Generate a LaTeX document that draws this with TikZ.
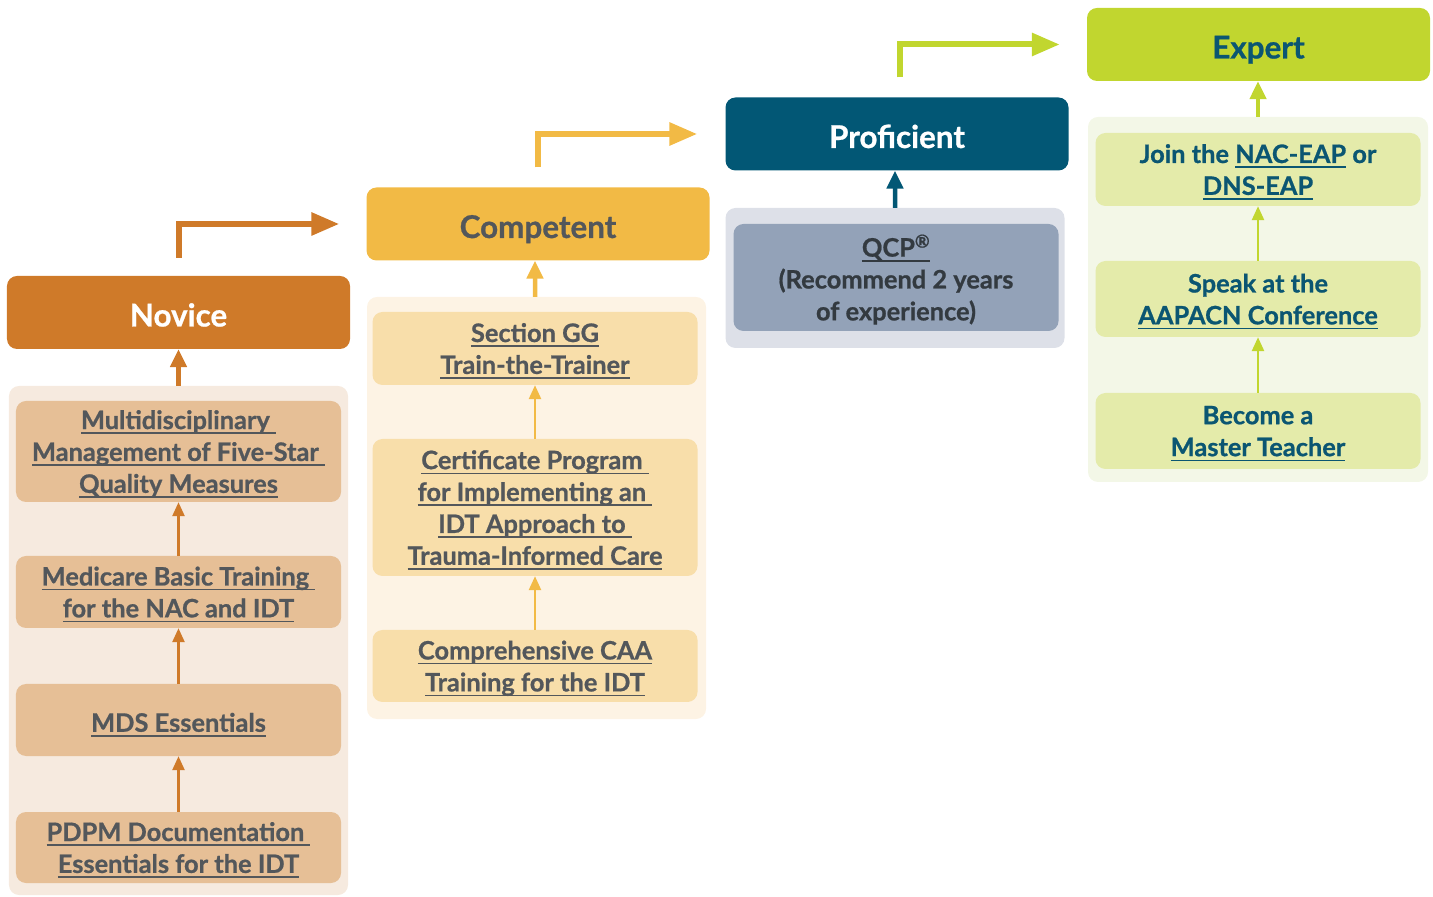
\documentclass[tikz,border=0pt]{standalone}
\usepackage{fontspec}
\setmainfont{Lato}[BoldFeatures={FakeBold=0.8}]
\usepackage{xcolor}
\usetikzlibrary{arrows, arrows.meta}
\usetikzlibrary{positioning}

\definecolor{nvorange}{HTML}{CF7A29}
\definecolor{nvpanel}{HTML}{F6EADF}
\definecolor{nvitem}{HTML}{E6BF96}
\definecolor{cpyellow}{HTML}{F2BA45}
\definecolor{cppanel}{HTML}{FDF3E4}
\definecolor{cpitem}{HTML}{F8DEAA}
\definecolor{prblue}{HTML}{025775}
\definecolor{prpanel}{HTML}{DDE0E8}
\definecolor{pritem}{HTML}{93A2B8}
\definecolor{exgreen}{HTML}{C1D62F}
\definecolor{expanel}{HTML}{F3F7E7}
\definecolor{exitem}{HTML}{E4EBAA}
\definecolor{txtgray}{HTML}{53575B}
\definecolor{txtteal}{HTML}{0B5672}
\definecolor{txtdark}{HTML}{333A40}

\newcommand{\lnk}[1]{\setbox0\hbox{#1}\rlap{\smash{\rule[-5bp]{\wd0}{1.6bp}}}\box0\relax}

\begin{document}
\begin{tikzpicture}[x=1bp, y=1bp,
	every node/.style={rounded corners=10bp, inner sep=0pt, align=center, text depth=0bp, execute at begin node={\rule{0pt}{23.5bp}}, font=\bfseries\fontsize{25.5}{32}\selectfont},
	header/.style={minimum width=343bp, minimum height=73bp, execute at begin node={\rule{0pt}{28bp}}, font=\bfseries\fontsize{31.5}{36}\selectfont},
	panel/.style={minimum width=339bp},
	item/.style={minimum width=325bp},
	bent/.style={line width=6bp, -{Triangle[length=28bp, width=22bp]}},
	up/.style={line width=4.5bp, -{Triangle[length=18bp, width=16bp]}},
	step up/.style={line width=2.5bp, -{Triangle[length=14bp, width=12bp]}}]
	\useasboundingbox (0,0) rectangle (1433,896);
	% novice
	\node[header, fill=nvorange, text=white] (novice) at (178.5,583.5) {Novice};
	\node[panel, fill=nvpanel, minimum height=509bp] (nvpanel) at (178.5,255.5) {};
	\node[item, fill=nvitem, text=txtgray, minimum height=101bp] (nv1) at (178.5,444.5) {\lnk{Multidisciplinary\ }\\\lnk{Management of Five-Star\ }\\\lnk{Quality Measures}};
	\node[item, fill=nvitem, text=txtgray, minimum height=72bp] (nv2) at (178.5,304) {\lnk{Medicare Basic Training\ }\\\lnk{for the NAC and IDT}};
	\node[item, fill=nvitem, text=txtgray, minimum height=72bp] (nv3) at (178.5,176) {\lnk{MDS Essentials}};
	\node[item, fill=nvitem, text=txtgray, minimum height=71bp] (nv4) at (178.5,48.5) {\lnk{PDPM Documentation\ }\\\lnk{Essentials for the IDT}};
	% competent
	\node[header, fill=cpyellow, text=txtgray] (competent) at (538,672) {Competent};
	\node[panel, fill=cppanel, minimum height=422bp] (cppanel) at (536.5,388) {};
	\node[item, fill=cpitem, text=txtgray, minimum height=73bp] (cp1) at (535,547.5) {\lnk{Section GG}\\\lnk{Train-the-Trainer}};
	\node[item, fill=cpitem, text=txtgray, minimum height=137bp] (cp2) at (535,388.5) {\lnk{Certificate Program\ }\\\lnk{for Implementing an\ }\\\lnk{IDT Approach to\ }\\\lnk{Trauma-Informed Care}};
	\node[item, fill=cpitem, text=txtgray, minimum height=72bp] (cp3) at (535,230) {\lnk{Comprehensive CAA}\\\lnk{Training for the IDT}};
	% proficient
	\node[header, fill=prblue, text=white] (proficient) at (897,762) {Proficient};
	\node[panel, fill=prpanel, minimum height=140bp] (prpanel) at (895,618) {};
	\node[item, fill=pritem, text=txtdark, minimum height=107bp] (pr1) at (896,618.5) {\lnk{QCP\textsuperscript{®}}\\(Recommend 2 years\\of experience)};
	% expert
	\node[header, fill=exgreen, text=txtteal] (expert) at (1258.5,851.5) {Expert};
	\node[panel, fill=expanel, minimum height=365bp, minimum width=340bp] (expanel) at (1258,596.5) {};
	\node[item, fill=exitem, text=txtteal, minimum height=73bp] (ex1) at (1258,726.5) {Join the \lnk{NAC-EAP} or\\\lnk{DNS-EAP}};
	\node[item, fill=exitem, text=txtteal, minimum height=76bp] (ex2) at (1258,597) {Speak at the\\\lnk{AAPACN Conference}};
	\node[item, fill=exitem, text=txtteal, minimum height=76bp] (ex3) at (1258,465) {Become a\\\lnk{Master Teacher}};
	% arrows
	\draw[bent, nvorange] ([yshift=18bp]novice.north) |- ([xshift=-27bp]competent.west);
	\draw[bent, cpyellow] ([yshift=20bp]competent.north) |- ([xshift=-28bp]proficient.west);
	\draw[bent, exgreen] ([xshift=3bp, yshift=20bp]proficient.north) |- ([xshift=-27bp]expert.west);
	\draw[up, nvorange] (nvpanel.north) -- (novice.south);
	\draw[up, cpyellow] ([xshift=-1.5bp]cppanel.north) -- ([xshift=-3bp]competent.south);
	\draw[up, prblue] (prpanel.north) -- ([xshift=-2bp]proficient.south);
	\draw[up, exgreen] (expanel.north) -- ([xshift=-0.5bp]expert.south);
	\foreach \a/\b/\c in {nv2/nv1/nvorange, nv3/nv2/nvorange, nv4/nv3/nvorange, cp2/cp1/cpyellow, cp3/cp2/cpyellow, ex2/ex1/exgreen, ex3/ex2/exgreen}
	{
		\draw[step up, \c] (\a.north) -- (\b.south);
	}
\end{tikzpicture}
\end{document}
